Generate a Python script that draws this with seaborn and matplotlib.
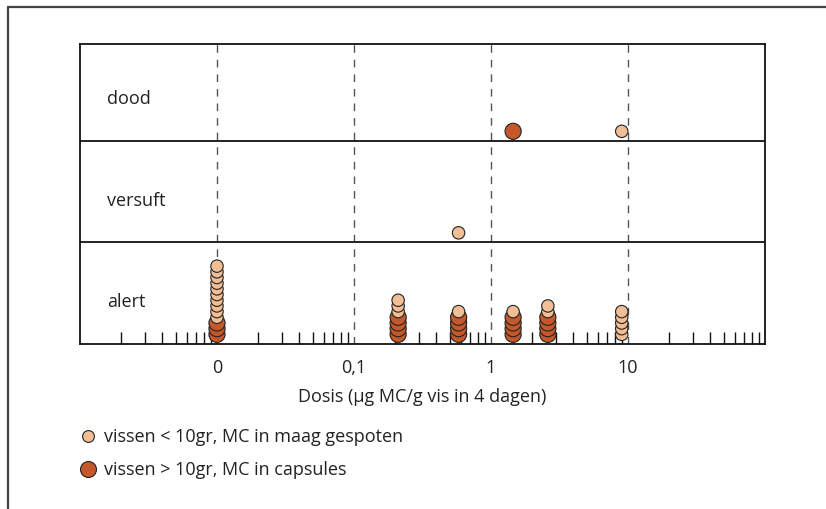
import numpy as np
import pandas as pd
import matplotlib
matplotlib.use("Agg")
import matplotlib.pyplot as plt
from matplotlib.lines import Line2D
from matplotlib.ticker import FixedLocator, LogLocator, NullFormatter, FixedFormatter
import seaborn as sns

# ---- data ----
# dose positions on the log axis ("0" dose is drawn at the 0.01 position)
dose_positions = [0.01, 0.21, 0.58, 1.45, 2.6, 9.0]
tick_values = [0.01, 0.1, 1, 10]
tick_labels = ["0", "0,1", "1", "10"]
states = ["alert", "versuft", "dood"]

# number of fish per dose and state
alert_large = [3, 4, 4, 4, 4, 0]     # vissen > 10gr (capsules)
alert_small = [10, 3, 1, 1, 2, 5]    # vissen < 10gr (maag gespoten)
versuft_large = [0, 0, 0, 0, 0, 0]
versuft_small = [0, 0, 1, 0, 0, 0]
dood_large = [0, 0, 0, 1, 0, 0]
dood_small = [0, 0, 0, 0, 0, 1]

label_small = "vissen < 10gr, MC in maag gespoten"
label_large = "vissen > 10gr, MC in capsules"
xlabel = "Dosis (\u00b5g MC/g vis in 4 dagen)"

col_small = "#F2BE96"
col_large = "#C4582A"

# ---- build stacked dot table ----
BASE = 0.095
STEP = 0.056
rows = []
counts = {
    "alert": (alert_large, alert_small),
    "versuft": (versuft_large, versuft_small),
    "dood": (dood_large, dood_small),
}
for si, st in enumerate(states):
    large, small = counts[st]
    for di, d in enumerate(dose_positions):
        k = 0
        for _ in range(large[di]):
            rows.append({"dose": d, "y": si + BASE + k * STEP, "group": "large"})
            k += 1
        for _ in range(small[di]):
            rows.append({"dose": d, "y": si + BASE + k * STEP, "group": "small"})
            k += 1
df = pd.DataFrame(rows)

sns.set_theme(style="white")
plt.rcParams["font.family"] = ["Open Sans", "DejaVu Sans"]
FS = 13

W, H = 826, 510
fig = plt.figure(figsize=(W / 100, H / 100), dpi=100)
ax = fig.add_axes([80 / W, 1 - 345 / H, (765 - 80) / W, (345 - 45) / H])

ax.set_xscale("log")
ax.set_xlim(0.001, 100)
ax.set_ylim(0, 2.955)

# dashed reference lines
for v in tick_values:
    ax.axvline(v, color="#555555", lw=1.0, ls=(0, (5.5, 5)), zorder=1)
# row separators
for r in [1, 2]:
    ax.axhline(r, color="#111111", lw=1.3, zorder=1)

sns.scatterplot(data=df, x="dose", y="y", hue="group", size="group",
                palette={"small": col_small, "large": col_large},
                sizes={"small": 80, "large": 135},
                edgecolor="#222222", linewidth=0.8, legend=False, ax=ax, zorder=3)

ax.set_xscale("log")
ax.set_xlim(0.001, 100)
ax.set_ylim(0, 2.955)

for sp in ax.spines.values():
    sp.set_color("#111111")
    sp.set_linewidth(1.3)

ax.set_yticks([])
ax.set_ylabel("")
ax.xaxis.set_major_locator(FixedLocator([0.001] + tick_values + [100]))
ax.xaxis.set_major_formatter(FixedFormatter([""] + tick_labels + [""]))
ax.xaxis.set_minor_locator(LogLocator(base=10, subs=np.arange(2, 10), numticks=20))
ax.xaxis.set_minor_formatter(NullFormatter())
ax.tick_params(axis="x", which="major", direction="inout", length=12, width=1.2,
               color="#111111", labelsize=FS, pad=4, labelcolor="#222222")
ax.tick_params(axis="x", which="minor", direction="in", length=9, width=1.0,
               color="#111111", bottom=True)
ax.set_xlabel(xlabel, fontsize=FS, color="#222222", labelpad=8)

for si, st in enumerate(states):
    ax.text(0.00157, si + 0.42, st, fontsize=FS, color="#222222",
            ha="left", va="center")

# legend
leg_items = [(437, col_small, 8.5, label_small), (470, col_large, 11.5, label_large)]
for ypx, col, ms, lab in leg_items:
    fig.add_artist(Line2D([88 / W], [1 - ypx / H], marker="o", ms=ms,
                          mfc=col, mec="#222222", mew=0.8, ls="none",
                          transform=fig.transFigure))
    fig.text(104 / W, 1 - ypx / H, lab, fontsize=FS, color="#222222",
             ha="left", va="center")

# outer frame (top and left)
fig.add_artist(Line2D([8 / W, 1.0], [1 - 8 / H, 1 - 8 / H], color="#444444",
                      lw=1.6, transform=fig.transFigure))
fig.add_artist(Line2D([8 / W, 8 / W], [1 - 8 / H, 0.0], color="#444444",
                      lw=1.6, transform=fig.transFigure))

fig.savefig("out.png", dpi=100)
